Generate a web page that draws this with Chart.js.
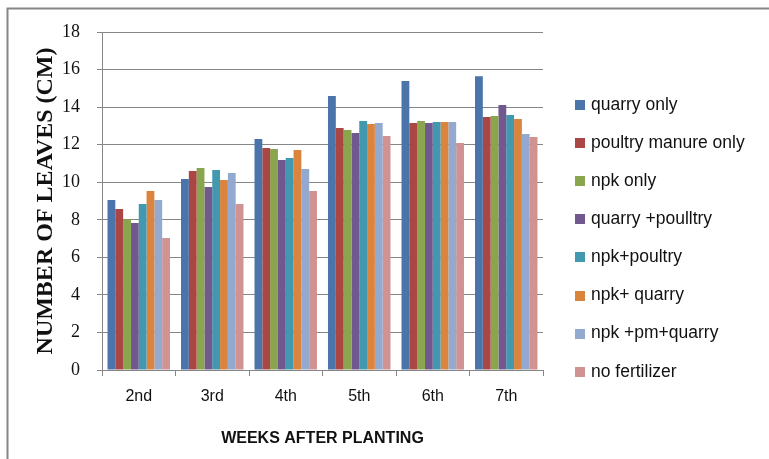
<!DOCTYPE html>
<html>
<head>
<meta charset="utf-8">
<script src="https://cdn.jsdelivr.net/npm/chart.js@4"></script>
<style>
  html, body { margin: 0; padding: 0; background: #fff; }
  #wrap { width: 769px; height: 459px; position: relative; }
</style>
</head>
<body>
<div id="wrap"><canvas id="leavesChart" width="769" height="459"></canvas></div>
<script>
// Data
const weeks = ['2nd', '3rd', '4th', '5th', '6th', '7th'];
const yTicks = [0, 2, 4, 6, 8, 10, 12, 14, 16, 18];

const quarryOnly      = [9.05, 10.17, 12.30, 14.59, 15.39, 15.65];
const poultryOnly     = [8.57, 10.60, 11.82, 12.89, 13.15, 13.47];
const npkOnly         = [8.02, 10.76, 11.77, 12.78, 13.26, 13.52];
const quarryPoultry   = [7.83,  9.74, 11.18, 12.62, 13.15, 14.11];
const npkPoultry      = [8.84, 10.65, 11.29, 13.26, 13.21, 13.58];
const npkQuarry       = [9.53, 10.12, 11.71, 13.10, 13.21, 13.37];
const npkPmQuarry     = [9.05, 10.49, 10.70, 13.15, 13.21, 12.57];
const noFertilizer    = [7.03,  8.84,  9.53, 12.46, 12.09, 12.41];

const seriesNames = ['quarry only', 'poultry manure only', 'npk only', 'quarry +poulltry',
                     'npk+poultry', 'npk+ quarry', 'npk +pm+quarry', 'no fertilizer'];
const seriesValues = [quarryOnly, poultryOnly, npkOnly, quarryPoultry,
                      npkPoultry, npkQuarry, npkPmQuarry, noFertilizer];
const seriesColors = ['#4A74AA', '#AA4643', '#89A54E', '#71588F',
                      '#4198AF', '#DB843D', '#93A9CF', '#D19392'];

const axisGrey = '#868686';

// outer frame (top + left lines only) and the legend on the right
const framePlugin = {
    id: 'frame',
    beforeDraw(chart) {
        const ctx = chart.ctx;
        ctx.save();
        ctx.strokeStyle = axisGrey;
        ctx.lineWidth = 2;
        ctx.beginPath();
        ctx.moveTo(7.5, 459);
        ctx.lineTo(7.5, 8.5);
        ctx.lineTo(769, 8.5);
        ctx.stroke();
        ctx.restore();
    },
    afterDraw(chart) {
        const ctx = chart.ctx;
        ctx.save();
        ctx.font = '17.5px "Liberation Sans", Arial, sans-serif';
        ctx.textBaseline = 'middle';
        chart.data.datasets.forEach((ds, i) => {
            const y = 105 + i * 38.1;
            ctx.fillStyle = ds.backgroundColor;
            ctx.fillRect(575, Math.round(y) - 5, 10, 10);
            ctx.fillStyle = '#111';
            ctx.fillText(ds.label, 591, y);
        });
        ctx.restore();
    }
};

const ctx = document.getElementById('leavesChart').getContext('2d');

new Chart(ctx, {
    type: 'bar',
    data: {
        labels: weeks,
        datasets: seriesNames.map((name, i) => ({
            label: name,
            data: seriesValues[i],
            backgroundColor: seriesColors[i],
            borderWidth: 0,
            categoryPercentage: 0.85,
            barPercentage: 1.0
        }))
    },
    options: {
        responsive: false,
        animation: false,
        layout: {
            padding: { left: 10, top: 32, right: 226, bottom: 0 }
        },
        plugins: {
            legend: { display: false },
            tooltip: { enabled: false }
        },
        scales: {
            x: {
                afterFit: (scale) => { scale.height = 89; },
                grid: {
                    display: true,
                    drawOnChartArea: false,
                    drawTicks: true,
                    tickLength: 6,
                    color: axisGrey,
                    offset: true
                },
                border: { display: true, color: axisGrey, width: 1 },
                ticks: {
                    color: '#111',
                    padding: 11,
                    font: { family: '"Liberation Sans", Arial, sans-serif', size: 16 }
                },
                title: {
                    display: true,
                    text: 'WEEKS AFTER PLANTING',
                    color: '#111',
                    padding: { top: 0, bottom: 11 },
                    font: { family: '"Liberation Sans", Arial, sans-serif', size: 16, weight: 'bold' }
                }
            },
            y: {
                min: 0,
                max: 18,
                afterFit: (scale) => { scale.width = 92; },
                afterBuildTicks: (scale) => { scale.ticks = yTicks.map(v => ({ value: v })); },
                grid: {
                    color: axisGrey,
                    lineWidth: 1,
                    drawTicks: true,
                    tickLength: 5
                },
                border: { display: true, color: axisGrey, width: 1 },
                ticks: {
                    color: '#111',
                    padding: 17,
                    font: { family: '"Liberation Serif", "Times New Roman", serif', size: 18 }
                },
                title: {
                    display: true,
                    text: 'NUMBER OF LEAVES (CM)',
                    color: '#111',
                    padding: { top: 21, bottom: 0 },
                    font: { family: '"Liberation Serif", "Times New Roman", serif', size: 24, weight: 'bold' }
                }
            }
        }
    },
    plugins: [framePlugin]
});
</script>
</body>
</html>
